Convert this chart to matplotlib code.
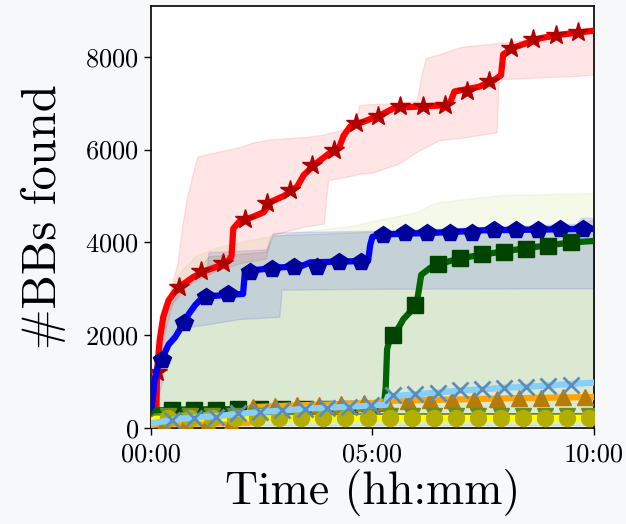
import numpy as np
import matplotlib
matplotlib.use('Agg')
import matplotlib.pyplot as plt

plt.rcParams['font.family'] = 'serif'
plt.rcParams['font.serif'] = ['cmr10']
plt.rcParams['mathtext.fontset'] = 'cm'
plt.rcParams['axes.formatter.use_mathtext'] = True

# ---- data (hours, #BBs) ----
red_t = [0, 0.12, 0.14, 0.2, 0.28, 0.4, 0.55, 0.7, 0.95, 1.2, 1.5, 1.75, 1.82, 1.86, 2.0, 2.3,
         2.55, 2.7, 3.0, 3.3, 3.45, 3.7, 4.0, 4.25, 4.35, 4.5, 4.8, 5.2, 5.5, 6.6, 6.75, 6.85,
         7.4, 7.75, 7.9, 7.95, 8.2, 8.8, 9.3, 10]
red_v = [0, 50, 1212, 1900, 2400, 2750, 2950, 3080, 3250, 3380, 3480, 3600, 3700, 4300, 4450, 4550,
         4650, 4870, 5000, 5200, 5450, 5680, 5900, 6050, 6300, 6500, 6600, 6750, 6900, 6950, 7000, 7250,
         7350, 7500, 7600, 8050, 8200, 8400, 8480, 8560]
red_mk_t = [0.13 + 0.5 * k for k in range(20)]
red_mk_v = [1212, 3040, 3380, 3560, 4510, 4850, 5130, 5670, 6000, 6570,
            6720, 6940, 6940, 6960, 7260, 7480, 8190, 8380, 8470, 8530]

blue_t = [0, 0.03, 0.08, 0.15, 0.24, 0.4, 0.55, 0.7, 0.85, 1.0, 1.15, 1.3, 2.08, 2.12, 2.4, 2.9,
          3.4, 3.6, 4.9, 4.95, 5.0, 5.2, 6.5, 7.5, 10]
blue_v = [0, 500, 1000, 1300, 1470, 1800, 1960, 2200, 2450, 2650, 2800, 2840, 2890, 3350, 3410, 3460,
          3490, 3570, 3600, 3950, 4120, 4170, 4210, 4260, 4290]
blue_mk_t = [0.24 + 0.5 * k for k in range(20)]
blue_mk_v = [1470, 2260, 2830, 2890, 3370, 3430, 3480, 3480, 3580, 3580,
             4160, 4200, 4200, 4210, 4210, 4260, 4260, 4270, 4280, 4280]

green_t = [0, 0.04, 0.12, 0.5, 2.0, 5.25, 5.3, 5.33, 5.4, 5.55, 5.7, 5.8, 5.9, 6.0, 6.05, 6.1,
           6.3, 6.6, 7.0, 7.5, 8.0, 8.5, 9.0, 9.5, 10]
green_v = [0, 250, 380, 400, 410, 420, 900, 1700, 1950, 2100, 2350, 2450, 2550, 2700, 3000, 3300,
           3450, 3560, 3660, 3740, 3810, 3880, 3940, 4000, 4030]
green_mk_t = [0.47 + 0.5 * k for k in range(19)]
green_mk_v = [400, 400, 400, 410, 410, 410, 415, 415, 420, 420,
              2000, 2650, 3530, 3660, 3740, 3790, 3860, 3920, 4000]

orange_t = [0, 0.05, 2.2, 2.25, 3.0, 4.0, 5.0, 5.5, 6.0, 7.0, 8.0, 10]
orange_v = [0, 80, 110, 450, 480, 510, 540, 590, 600, 620, 640, 670]
orange_mk_t = [0.3 + 0.5 * k for k in range(20)]
orange_mk_v = [90, 100, 100, 110, 450, 470, 490, 500, 520, 540,
               560, 590, 600, 610, 620, 630, 640, 650, 660, 665]

sky_t = [0, 0.5, 1.0, 1.5, 2.0, 2.5, 3.0, 3.5, 4.0, 4.5, 5.0, 5.3, 5.35, 6.0, 6.5, 7.0, 7.5,
         8.0, 8.5, 9.0, 9.5, 10]
sky_v = [100, 180, 230, 260, 310, 350, 380, 420, 440, 460, 490, 500, 680, 730, 770, 810, 840,
         870, 890, 920, 950, 980]
sky_mk_t = [0.47 + 0.5 * k for k in range(19)]
sky_mk_v = [180, 220, 240, 330, 350, 395, 410, 440, 460, 500,
            715, 730, 760, 820, 840, 870, 890, 910, 930]

yellow_t = [0, 0.1, 1.0, 10]
yellow_v = [150, 200, 210, 220]
yellow_mk_t = [0.39 + 0.5 * k for k in range(20)]
yellow_mk_v = [220] * 20

olive_t = [0, 0.1, 10]
olive_v = [150, 250, 260]
olive_mk_t = [0.39 + 0.5 * k for k in range(20)]
olive_mk_v = [270] * 20

# ---- bands ----
red_band_t = [0, 0.1, 0.15, 0.2, 0.3, 0.4, 0.5, 0.6, 0.7, 0.8, 0.95, 1.05, 1.5, 2.0, 2.3, 2.6, 2.7,
              3.5, 3.9, 4.0, 4.6, 4.7, 5.0, 5.6, 6.0, 6.1, 6.2, 6.5, 7.0, 7.8, 7.85, 8.0, 9.5, 10]
red_band_lo = [0, 600, 1000, 1500, 2000, 2400, 2700, 2800, 2950, 3050, 3150, 3200, 3400, 3550, 3600,
               3650, 4150, 4350, 4400, 5340, 5450, 5480, 5500, 5700, 5950, 6000, 6050, 6200, 6250,
               6370, 7500, 7520, 7580, 7610]
red_band_hi = [0, 1000, 1500, 1900, 2400, 2800, 3200, 3550, 4300, 4900, 5500, 5850, 5950, 6050, 6150,
               6200, 6220, 6270, 6320, 6350, 6500, 6960, 6980, 7000, 7050, 7600, 7970, 8050, 8210,
               8290, 8300, 8310, 8500, 8640]

blue_band_t = [0, 0.1, 0.25, 0.3, 0.4, 0.5, 0.6, 0.9, 1.0, 1.25, 1.3, 2.0, 2.6, 2.75, 2.9, 2.95,
               5.0, 9.6, 9.7, 10]
blue_band_lo = [0, 400, 1000, 1300, 1800, 2100, 2130, 2180, 2200, 2230, 2240, 2350, 2380, 2390,
                2400, 2980, 3000, 3010, 3010, 3010]
blue_band_hi = [0, 1500, 2300, 2500, 2700, 2850, 3000, 3300, 3320, 3350, 3790, 3820, 3850, 4200,
                4210, 4220, 4250, 4400, 4530, 4530]

dgreen_band_t = [0, 0.1, 0.3, 0.6, 0.9, 1.3, 2.6, 2.75, 5.0, 9.6, 10]
dgreen_band_lo = [0, 60, 60, 60, 60, 60, 60, 60, 60, 60, 60]
dgreen_band_hi = [0, 1400, 2400, 2900, 3200, 3700, 3800, 4150, 4230, 4380, 4500]

ygreen_band_t = [0, 0.1, 0.3, 0.6, 1.0, 1.5, 2.5, 3.5, 4.5, 5.1, 6.0, 6.3, 6.5, 7.9, 10]
ygreen_band_lo = [0, 60, 60, 60, 60, 60, 60, 60, 60, 60, 60, 60, 60, 60, 60]
ygreen_band_hi = [0, 1800, 2700, 3300, 3700, 3900, 4100, 4250, 4350, 4480, 4650, 4800, 4870, 5020, 5060]

xticks = [0, 5, 10]
xticklabels = ['00:00', '05:00', '10:00']
yticks = [0, 2000, 4000, 6000, 8000]

# ---- figure ----
fig = plt.figure(figsize=(6.26, 5.24), dpi=100, facecolor='#f7f8fa')
ax = fig.add_axes([0.241, 0.183, 0.708, 0.8055])
ax.set_facecolor('white')

ax.fill_between(ygreen_band_t, ygreen_band_lo, ygreen_band_hi, color='yellowgreen', alpha=0.1)
ax.fill_between(dgreen_band_t, dgreen_band_lo, dgreen_band_hi, color='darkgreen', alpha=0.1)
ax.fill_between(blue_band_t, blue_band_lo, blue_band_hi, color='blue', alpha=0.1)
ax.fill_between(red_band_t, red_band_lo, red_band_hi, color='red', alpha=0.1)

lw = 4.5
series = [
    (red_t, red_v, red_mk_t, red_mk_v, 'red', '#b00000', '*', 15, 1),
    (blue_t, blue_v, blue_mk_t, blue_mk_v, 'blue', '#00009c', 'p', 13, 1),
    (green_t, green_v, green_mk_t, green_mk_v, '#006400', '#004400', 's', 11, 1),
    (orange_t, orange_v, orange_mk_t, orange_mk_v, 'orange', '#b87a08', '^', 12, 1),
    (olive_t, olive_v, olive_mk_t, olive_mk_v, 'olivedrab', '#6b8e23', 'v', 11, 1),
    (yellow_t, yellow_v, yellow_mk_t, yellow_mk_v, 'yellow', '#b3ae00', 'o', 11.5, 1),
    (sky_t, sky_v, sky_mk_t, sky_mk_v, 'lightskyblue', '#5b8db8', 'x', 11, 2),
]
for i, (lt, lv, mt, mv, c, mc, m, ms, mew) in enumerate(series):
    ax.plot(lt, lv, color=c, lw=lw, solid_joinstyle='round', solid_capstyle='round', zorder=3 + i)
    ax.plot(mt, mv, ls='none', marker=m, ms=ms, color=mc, mec=mc, mew=mew, zorder=3 + i)

ax.set_xlim(0, 10)
ax.set_ylim(0, 9090)
ax.set_xticks(xticks)
ax.set_xticklabels(xticklabels)
ax.set_yticks(yticks)
ax.tick_params(labelsize=19, length=5, width=1, direction='out')
ax.tick_params(axis='x', pad=5.5)
for s in ax.spines.values():
    s.set_linewidth(1.2)
    s.set_color('black')

ax.set_xlabel('Time (hh:mm)', fontsize=33, labelpad=2)
ax.set_ylabel('#BBs found', fontsize=35, labelpad=14)

fig.savefig('out.png', dpi=100, facecolor=fig.get_facecolor())
